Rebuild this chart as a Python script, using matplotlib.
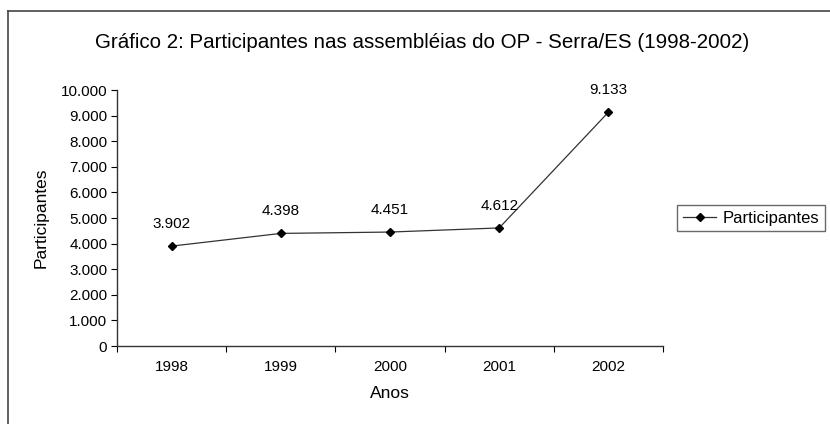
import matplotlib.pyplot as plt
from matplotlib.lines import Line2D
from matplotlib.ticker import FuncFormatter

anos = ['1998', '1999', '2000', '2001', '2002']
participantes = [3902, 4398, 4451, 4612, 9133]
y_ticks = list(range(0, 10001, 1000))


def milhar(v, pos=None):
    return f'{int(v):,}'.replace(',', '.')


plt.rcParams['font.family'] = ['Liberation Sans', 'DejaVu Sans']

fig = plt.figure(figsize=(8.3, 4.24), dpi=100)
ax = fig.add_axes([117 / 830, 78 / 424, 546 / 830, 256 / 424])

# borda externa (so topo e esquerda aparecem no recorte)
fig.add_artist(Line2D([8 / 830, 8 / 830], [0, 1 - 11 / 424], transform=fig.transFigure,
                      color='#444444', lw=1.2))
fig.add_artist(Line2D([8 / 830, 1], [1 - 11 / 424, 1 - 11 / 424], transform=fig.transFigure,
                      color='#444444', lw=1.2))

x = [i + 0.5 for i in range(len(anos))]
ax.plot(x, participantes, color='#333333', lw=0.9, marker='D', markersize=4.5,
        markerfacecolor='black', markeredgecolor='black', label='Participantes')

for xi, v in zip(x, participantes):
    ax.annotate(milhar(v), (xi, v), xytext=(0, 11), textcoords='offset points',
                ha='center', va='bottom', fontsize=11)

ax.set_xlim(0, len(anos))
ax.set_ylim(0, 10000)
ax.set_yticks(y_ticks)
ax.yaxis.set_major_formatter(FuncFormatter(milhar))
ax.set_xticks(range(len(anos) + 1))
ax.set_xticklabels([])
ax.set_xticks(x, minor=True)
ax.set_xticklabels(anos, minor=True)
ax.tick_params(axis='x', which='minor', length=0, pad=10, labelsize=11)
ax.tick_params(axis='x', which='major', length=4, direction='out', color='black')
ax.tick_params(axis='y', length=4, direction='out', labelsize=11, pad=3)

for s in ['top', 'right']:
    ax.spines[s].set_visible(False)
for s in ['left', 'bottom']:
    ax.spines[s].set_color('#333333')
    ax.spines[s].set_linewidth(1.0)

ax.set_xlabel('Anos', fontsize=12.5, labelpad=9)
ax.set_ylabel('Participantes', fontsize=12.5, labelpad=9)

fig.text(422 / 830, 1 - 42 / 424,
         'Gráfico 2: Participantes nas assembléias do OP - Serra/ES (1998-2002)',
         ha='center', va='center', fontsize=14.8)

leg = ax.legend(loc='center left', bbox_to_anchor=(677 / 830, 1 - 218 / 424),
                bbox_transform=fig.transFigure, frameon=True, fancybox=False,
                fontsize=12, handlelength=2.0, borderpad=0.35, handletextpad=0.4,
                borderaxespad=0)
leg.get_frame().set_edgecolor('#444444')
leg.get_frame().set_linewidth(1.0)

fig.savefig('out.png', dpi=100)
